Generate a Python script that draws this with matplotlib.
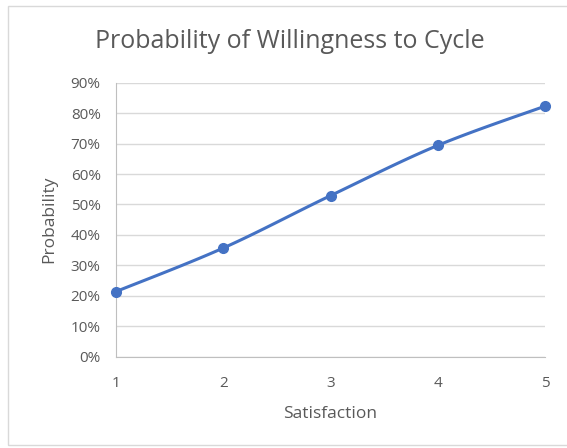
import numpy as np
import matplotlib.pyplot as plt
from matplotlib.patches import Rectangle
from matplotlib.ticker import PercentFormatter

satisfaction = [1, 2, 3, 4, 5]
probability = [0.214, 0.357, 0.529, 0.694, 0.823]

plt.rcParams['font.family'] = ['Open Sans', 'DejaVu Sans']

blue = '#4472C4'
grey_text = '#595959'

# smoothed line like the spreadsheet one (Catmull-Rom style bezier)
def smooth(xs, ys, n=30):
    xs = np.asarray(xs, float)
    ys = np.asarray(ys, float)
    px = np.concatenate([[xs[0]], xs, [xs[-1]]])
    py = np.concatenate([[ys[0]], ys, [ys[-1]]])
    outx, outy = [], []
    t = np.linspace(0, 1, n)
    for i in range(1, len(px) - 2):
        p0 = np.array([px[i], py[i]])
        p3 = np.array([px[i + 1], py[i + 1]])
        c1 = p0 + (np.array([px[i + 1], py[i + 1]]) - np.array([px[i - 1], py[i - 1]])) / 6
        c2 = p3 - (np.array([px[i + 2], py[i + 2]]) - np.array([px[i], py[i]])) / 6
        b = ((1 - t) ** 3)[:, None] * p0 + (3 * (1 - t) ** 2 * t)[:, None] * c1 \
            + (3 * (1 - t) * t ** 2)[:, None] * c2 + (t ** 3)[:, None] * p3
        outx.extend(b[:, 0])
        outy.extend(b[:, 1])
    return outx, outy

fig = plt.figure(figsize=(5.67, 4.48), dpi=100)
# light outline of the chart area
fig.patches.append(Rectangle((8 / 567, 3 / 448), 1.2, (445 - 6) / 448, transform=fig.transFigure,
                             fill=False, edgecolor='#D9D9D9', linewidth=1))
ax = fig.add_axes([116 / 567, 91.3 / 448, 429 / 567, 274 / 448])

sx, sy = smooth(satisfaction, probability)
ax.plot(sx, sy, color=blue, linewidth=2.2, solid_capstyle='round', zorder=3)
ax.plot(satisfaction, probability, 'o', color=blue, markersize=7, zorder=4, clip_on=False)

ax.set_xlim(1, 5)
ax.set_ylim(0, 0.9)
ax.set_xticks(satisfaction)
ax.set_yticks(np.arange(0, 0.91, 0.1))
ax.yaxis.set_major_formatter(PercentFormatter(1.0, decimals=0))
ax.grid(axis='y', color='#D9D9D9', linewidth=1)
ax.set_axisbelow(True)
for s in ['top', 'right']:
    ax.spines[s].set_visible(False)
for s in ['left', 'bottom']:
    ax.spines[s].set_color('#BFBFBF')
ax.tick_params(length=0, colors=grey_text, labelsize=11)
ax.tick_params(axis='x', pad=14)
ax.tick_params(axis='y', pad=11)

ax.set_xlabel('Satisfaction', color=grey_text, fontsize=12.5, labelpad=11)
ax.set_ylabel('Probability', color=grey_text, fontsize=12.5, labelpad=10)
fig.text(290 / 567, 1 - 42 / 448, 'Probability of Willingness to Cycle', ha='center', va='center',
         fontsize=18, color=grey_text)

fig.savefig('out.png', dpi=100)
